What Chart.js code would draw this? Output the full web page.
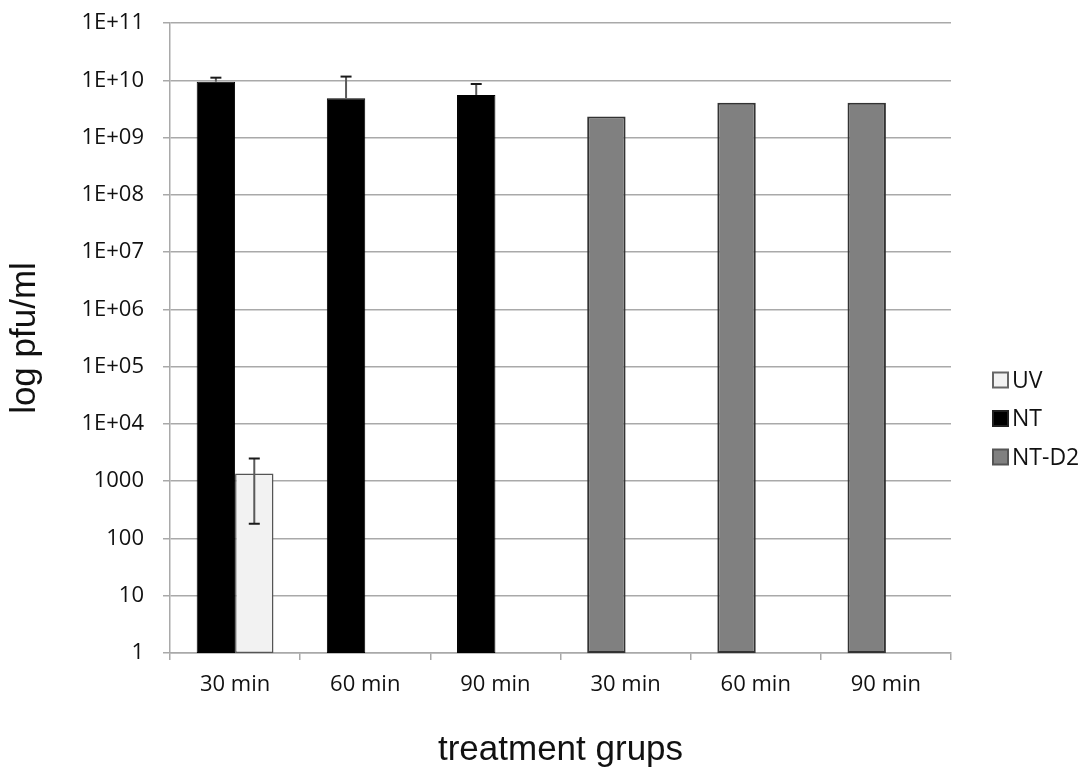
<!DOCTYPE html>
<html><head><meta charset="utf-8">
<script src="https://cdn.jsdelivr.net/npm/chart.js@4.4.1/dist/chart.umd.min.js"></script>
<style>html,body{margin:0;padding:0;background:#fff;} canvas{display:block;}</style>
</head><body>
<canvas id="c" width="1085" height="771"></canvas>
<script>
const categories = ['30 min', '60 min', '90 min', '30 min', '60 min', '90 min'];

const uvValues    = [1360, null, null, null, null, null];
const uvErrPlus   = [1120, null, null, null, null, null];
const uvErrMinus  = [1179, null, null, null, null, null];

const ntValues    = [9.46e9, 4.85e9, 5.54e9, null, null, null];
const ntErrPlus   = [1.64e9, 6.75e9, 3.06e9, null, null, null];
const ntErrMinus  = [null, null, null, null, null, null];

const ntd2Values  = [null, null, null, 2.32e9, 4.07e9, 4.07e9];

const yTickValues = [1, 10, 100, 1000, 1e4, 1e5, 1e6, 1e7, 1e8, 1e9, 1e10, 1e11];
const yTickLabels = ['1', '10', '100', '1000', '1E+04', '1E+05', '1E+06', '1E+07', '1E+08', '1E+09', '1E+10', '1E+11'];

const seriesNames = ['UV', 'NT', 'NT-D2'];
const xTitle = 'treatment grups';
const yTitle = 'log pfu/ml';

const GRID = '#a9a9a9';

const errorBarPlugin = {
  id: 'errorBars',
  afterDatasetsDraw(chart) {
    const ctx = chart.ctx;
    const y = chart.scales.y;
    chart.data.datasets.forEach((ds, di) => {
      const meta = chart.getDatasetMeta(di);
      if (!ds.errPlus) return;
      meta.data.forEach((bar, i) => {
        const v = ds.data[i];
        if (v == null) return;
        const plus = ds.errPlus[i], minus = ds.errMinus ? ds.errMinus[i] : null;
        const x = bar.x;
        const yv = y.getPixelForValue(v);
        const yTop = plus != null ? y.getPixelForValue(v + plus) : yv;
        const yBot = minus != null ? y.getPixelForValue(v - minus) : yv;
        ctx.save();
        ctx.strokeStyle = '#5a5a5a';
        ctx.lineWidth = 2;
        ctx.beginPath();
        ctx.moveTo(x, yTop); ctx.lineTo(x, yBot);
        ctx.stroke();
        ctx.strokeStyle = '#1a1a1a';
        ctx.beginPath();
        if (plus != null) { ctx.moveTo(x - 5.5, yTop); ctx.lineTo(x + 5.5, yTop); }
        if (minus != null) { ctx.moveTo(x - 5.5, yBot); ctx.lineTo(x + 5.5, yBot); }
        ctx.stroke();
        ctx.restore();
      });
    });
  }
};

const legendPlugin = {
  id: 'sideLegend',
  afterDraw(chart) {
    const ctx = chart.ctx;
    const order = [0, 1, 2];
    const boxX = chart.chartArea.right + 42;
    const y0 = 380, step = 38.5, box = 15;
    ctx.save();
    ctx.font = '23px "Open Sans"';
    ctx.textBaseline = 'middle';
    ctx.textAlign = 'left';
    order.forEach((di, k) => {
      const ds = chart.data.datasets[di];
      const cy = y0 + k * step;
      ctx.fillStyle = ds.backgroundColor;
      ctx.fillRect(boxX, cy - box / 2, box, box);
      ctx.strokeStyle = ds.legendBorder;
      ctx.lineWidth = 2;
      ctx.strokeRect(boxX, cy - box / 2, box, box);
      ctx.fillStyle = '#111';
      ctx.fillText(ds.label, boxX + box + 4, cy + 1);
    });
    ctx.restore();
  }
};

new Chart(document.getElementById('c'), {
  type: 'bar',
  data: {
    labels: categories,
    datasets: [
      { label: seriesNames[0], data: uvValues, errPlus: uvErrPlus, errMinus: uvErrMinus,
        stack: 'right', order: 2, backgroundColor: '#f2f2f2', borderColor: '#555555', legendBorder: '#666666',
        borderWidth: 1.5, borderSkipped: false },
      { label: seriesNames[1], data: ntValues, errPlus: ntErrPlus, errMinus: ntErrMinus,
        stack: 'left', order: 0, backgroundColor: '#000000', borderColor: '#000000', legendBorder: '#222222',
        borderWidth: 1, borderSkipped: false },
      { label: seriesNames[2], data: ntd2Values,
        stack: 'left', order: 1, backgroundColor: '#808080', borderColor: '#333333', legendBorder: '#555555',
        borderWidth: 2, borderSkipped: false }
    ]
  },
  options: {
    responsive: false,
    animation: false,
    devicePixelRatio: 1,
    layout: { padding: { top: 23, right: 134, left: 0, bottom: 0 } },
    categoryPercentage: 0.59,
    barPercentage: 1.0,
    plugins: { legend: { display: false }, tooltip: { enabled: false } },
    scales: {
      x: {
        type: 'category',
        grid: { display: true, drawOnChartArea: false, offset: true, color: GRID, lineWidth: 1.5, tickLength: 7, tickColor: GRID },
        border: { display: true, color: GRID, width: 1.5 },
        ticks: { font: { family: 'Open Sans', size: 22 }, color: '#111', padding: 12, maxRotation: 0, autoSkip: false },
        title: { display: true, text: xTitle, font: { family: 'Liberation Sans', size: 35 }, color: '#111', padding: { top: 0, bottom: 0 } },
        afterFit(scale) { scale.height = 118; scale.paddingLeft = 0; scale.paddingRight = 0; }
      },
      y: {
        type: 'logarithmic',
        stacked: false,
        min: 1,
        max: 1e11,
        afterBuildTicks(scale) { scale.ticks = yTickValues.map(v => ({ value: v })); },
        grid: { color: GRID, lineWidth: 1.5, tickLength: 7, tickColor: GRID },
        border: { display: true, color: GRID, width: 1.5 },
        ticks: {
          font: { family: 'Open Sans', size: 22 }, color: '#111', padding: 19,
          callback(value) { const i = yTickValues.indexOf(value); return i >= 0 ? yTickLabels[i] : ''; }
        },
        title: { display: true, text: yTitle, font: { family: 'Liberation Sans', size: 35 }, color: '#111', padding: { top: 4, bottom: 0 } },
        afterFit(scale) { scale.width = 170; scale.paddingTop = 0; scale.paddingBottom = 0; }
      }
    }
  },
  plugins: [errorBarPlugin, legendPlugin]
});
</script>
</body></html>
